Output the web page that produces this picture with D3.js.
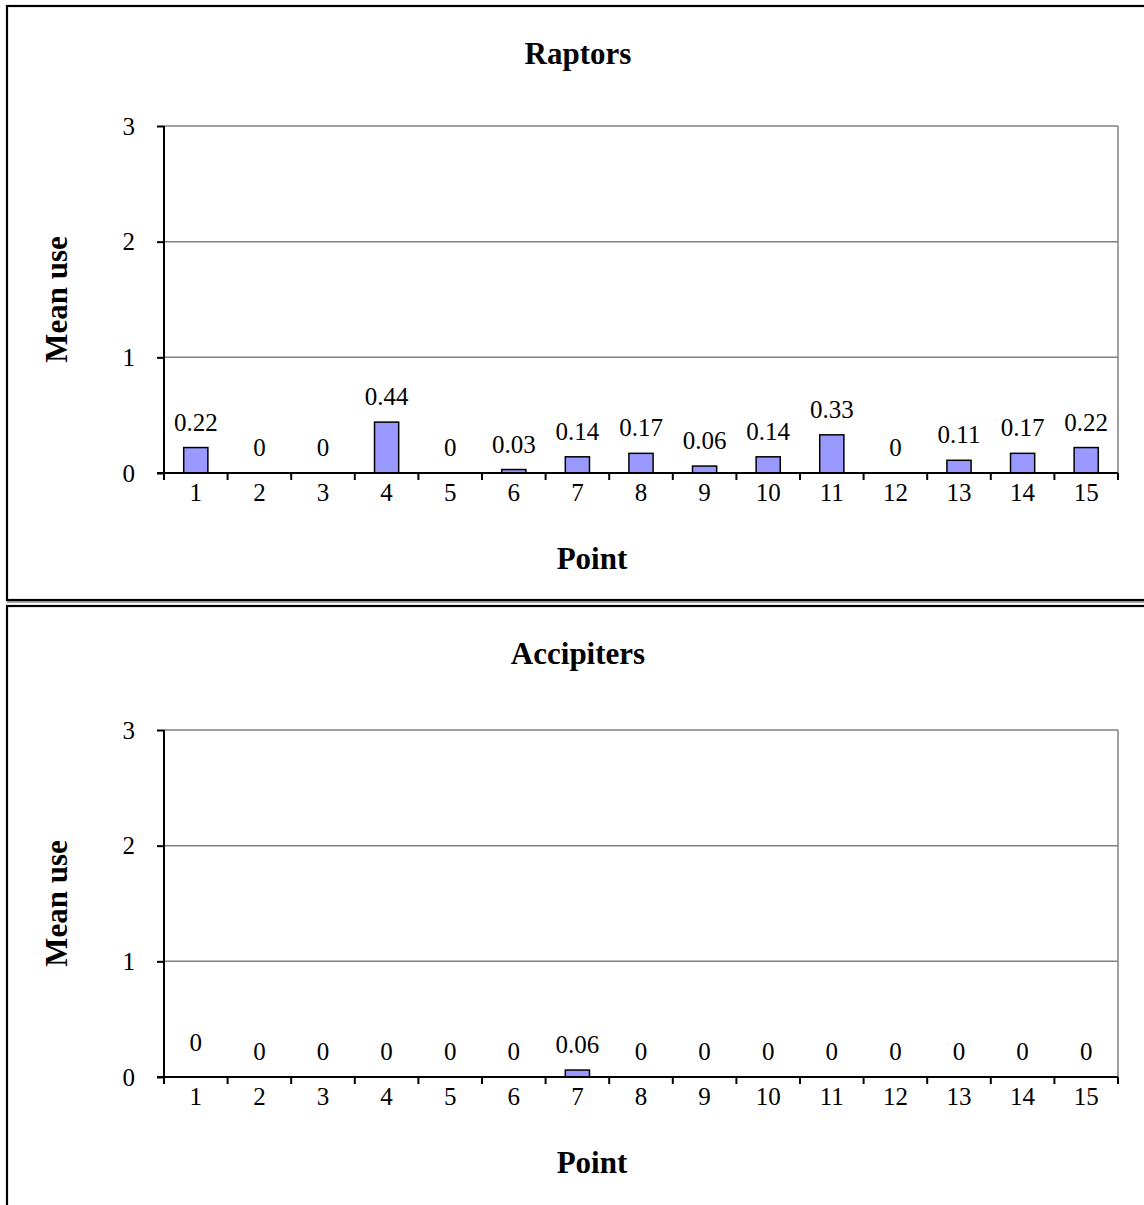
<!DOCTYPE html>
<html><head><meta charset="utf-8">
<script src="https://cdn.jsdelivr.net/npm/d3@7"></script>
<style>body{margin:0;background:#fff}svg{display:block}text{font-family:"Liberation Serif","Times New Roman",serif;fill:#000}</style>
</head><body>
<svg id="c" width="1144" height="1205"></svg>
<script>
const categories = ["1","2","3","4","5","6","7","8","9","10","11","12","13","14","15"];
const raptors = [0.22,0,0,0.44,0,0.03,0.14,0.17,0.06,0.14,0.33,0,0.11,0.17,0.22];
const accipiters = [0,0,0,0,0,0,0.06,0,0,0,0,0,0,0,0];
const yTicks = [0,1,2,3];
const titles = ["Raptors","Accipiters"];
const xTitle = "Point", yTitle = "Mean use";

const svg = d3.select("#c");
const panels = [
  {title: titles[0], values: raptors, top: 6, plotTop: 126, plotBottom: 473, labelShift: [], borderBottom: true},
  {title: titles[1], values: accipiters, top: 606, plotTop: 730, plotBottom: 1077, labelShift: [9], borderBottom: false}
];
const L = 164, R = 1118;
const FS = 25, TS = 31;

panels.forEach(p => {
  const g = svg.append("g");
  const frameH = p.borderBottom ? 594 : 640;
  if (p.borderBottom) {
    g.append("line").attr("x1",7).attr("x2",1144).attr("y1",602).attr("y2",602).attr("stroke","#888").attr("stroke-width",1.5);
  }
  g.append("rect").attr("x",7).attr("y",p.top).attr("width",1160).attr("height",frameH)
    .attr("fill","none").attr("stroke","#000").attr("stroke-width",2.2);

  const x = d3.scaleBand().domain(categories).range([L,R]).padding(0);
  const y = d3.scaleLinear().domain([0,3]).range([p.plotBottom,p.plotTop]);

  g.selectAll(".grid").data(yTicks.filter(t=>t>0)).join("line")
    .attr("x1",L).attr("x2",R).attr("y1",d=>y(d)).attr("y2",d=>y(d))
    .attr("stroke","#808080").attr("stroke-width",1.5);
  g.append("line").attr("x1",R).attr("x2",R).attr("y1",y(3)).attr("y2",y(0))
    .attr("stroke","#808080").attr("stroke-width",1.5);

  const bw = x.bandwidth()*0.38;
  g.selectAll(".bar").data(p.values).join("rect")
    .attr("x",(d,i)=>x(categories[i])+(x.bandwidth()-bw)/2)
    .attr("y",d=>y(d)).attr("width",bw).attr("height",d=>y(0)-y(d))
    .attr("fill","#9999FF").attr("stroke","#000").attr("stroke-width",1.5);

  g.selectAll(".lbl").data(p.values).join("text")
    .attr("x",(d,i)=>x(categories[i])+x.bandwidth()/2)
    .attr("y",(d,i)=>y(d)-17-(p.labelShift[i]||0))
    .attr("text-anchor","middle").attr("font-size",FS).text(d=>String(d));

  const ya = d3.axisLeft(y).tickValues(yTicks).tickSize(7).tickPadding(22).tickFormat(d3.format("d"));
  const yg = g.append("g").attr("transform",`translate(${L},0)`).call(ya);
  yg.select(".domain").attr("stroke","#000").attr("stroke-width",2).attr("d",`M0,${y(3)}V${y(0)}`);
  yg.selectAll(".tick line").attr("stroke","#000").attr("stroke-width",2);
  yg.selectAll(".tick text").attr("font-size",FS).attr("font-family","Liberation Serif").attr("fill","#000");

  const xg = g.append("g").attr("transform",`translate(0,${y(0)})`);
  xg.append("line").attr("x1",L-7).attr("x2",R).attr("y1",0).attr("y2",0).attr("stroke","#000").attr("stroke-width",2);
  const bounds = categories.map(c=>x(c)).concat([R]);
  xg.selectAll(".xt").data(bounds).join("line")
    .attr("x1",d=>d).attr("x2",d=>d).attr("y1",0).attr("y2",7).attr("stroke","#000").attr("stroke-width",2);
  xg.selectAll(".xl").data(categories).join("text")
    .attr("x",d=>x(d)+x.bandwidth()/2).attr("y",28).attr("text-anchor","middle").attr("font-size",FS).text(d=>d);

  g.append("text").attr("x",578).attr("y",p.top+58).attr("text-anchor","middle")
    .attr("font-size",TS).attr("font-weight","bold").text(p.title);
  g.append("text").attr("x",592).attr("y",p.plotBottom+96).attr("text-anchor","middle")
    .attr("font-size",TS).attr("font-weight","bold").text(xTitle);
  g.append("text").attr("transform",`translate(67,${(p.plotTop+p.plotBottom)/2}) rotate(-90)`)
    .attr("text-anchor","middle").attr("font-size",TS).attr("font-weight","bold").text(yTitle);
});
</script>
</body></html>
